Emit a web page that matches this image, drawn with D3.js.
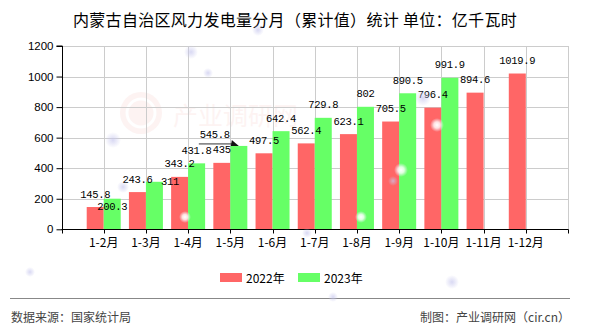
<!DOCTYPE html>
<html>
<head>
<meta charset="utf-8">
<script src="https://cdn.jsdelivr.net/npm/d3@7/dist/d3.min.js"></script>
<style>
  html, body { margin: 0; padding: 0; background: #fff; }
  svg { display: block; }
</style>
</head>
<body>
<svg id="chart" width="590" height="330"></svg>
<script>
// Cumulative wind power generation, Inner Mongolia (100 million kWh)
const categories = ["1-2月", "1-3月", "1-4月", "1-5月", "1-6月", "1-7月", "1-8月", "1-9月", "1-10月", "1-11月", "1-12月"];
const values2022 = [145.8, 243.6, 343.2, 435, 497.5, 562.4, 623.1, 705.5, 796.4, 894.6, 1019.9];
const values2023 = [200.3, 311, 431.8, 545.8, 642.4, 729.8, 802, 890.5, 991.9, null, null];
const seriesNames = ["2022年", "2023年"];
const yTickValues = [0, 200, 400, 600, 800, 1000, 1200];

const titleText = "内蒙古自治区风力发电量分月（累计值）统计 单位：亿千瓦时";
const sourceText = "数据来源：国家统计局";
const creditText = "制图：产业调研网（cir.cn）";

const colors = ["#ff6666", "#66ff66"];
const cjk = "'Noto Sans CJK SC', 'Noto Sans', sans-serif";
const mono = "'Liberation Mono', 'DejaVu Sans Mono', monospace";

const svg = d3.select("#chart");
const W = 590, H = 330;
const plot = { left: 61.5, right: 568, top: 46, bottom: 229.3 };

// soft background glows
const defs = svg.append("defs");
const gBlue = defs.append("radialGradient").attr("id", "glowBlue");
gBlue.append("stop").attr("offset", "0%").attr("stop-color", "#c8c8ee").attr("stop-opacity", 0.7);
gBlue.append("stop").attr("offset", "100%").attr("stop-color", "#c8c8ee").attr("stop-opacity", 0);
const gWhite = defs.append("radialGradient").attr("id", "glowWhite");
gWhite.append("stop").attr("offset", "0%").attr("stop-color", "#ffffff").attr("stop-opacity", 1);
gWhite.append("stop").attr("offset", "45%").attr("stop-color", "#ffffff").attr("stop-opacity", 0.8);
gWhite.append("stop").attr("offset", "100%").attr("stop-color", "#eeeeff").attr("stop-opacity", 0);

svg.append("rect").attr("width", W).attr("height", H).attr("fill", "#fff");

// faint watermark
const wm = svg.append("g").attr("opacity", 0.06);
wm.append("circle").attr("cx", 141).attr("cy", 113).attr("r", 21).attr("fill", "#e04030");
wm.append("circle").attr("cx", 141).attr("cy", 113).attr("r", 14).attr("fill", "none")
  .attr("stroke", "#fff").attr("stroke-width", 3);
wm.append("text").attr("x", 173).attr("y", 114).attr("dominant-baseline", "central")
  .attr("font-family", cjk).attr("font-size", 25).attr("fill", "#e04030").text("产业调研网");

// scales
const x = d3.scaleLinear().domain([0, categories.length + 1]).range([plot.left, plot.right]);
const y = d3.scaleLinear().domain([0, 1200]).range([plot.bottom, plot.top]);
const barW = 17;

// grid
const grid = svg.append("g").attr("stroke", "#cccccc").attr("stroke-width", 1);
grid.selectAll("line.h").data(yTickValues.filter(v => v > 0)).join("line")
  .attr("x1", plot.left).attr("x2", plot.right)
  .attr("y1", d => Math.round(y(d)) + 0.5).attr("y2", d => Math.round(y(d)) + 0.5);
grid.selectAll("line.v").data(d3.range(1, categories.length + 2)).join("line")
  .attr("x1", d => Math.round(x(d)) + 0.5).attr("x2", d => Math.round(x(d)) + 0.5)
  .attr("y1", plot.top).attr("y2", plot.bottom);

// bars
const series = [values2022, values2023];
series.forEach((vals, s) => {
  svg.append("g").selectAll("rect").data(vals.map((v, i) => ({ v, i })).filter(d => d.v != null)).join("rect")
    .attr("x", d => x(d.i + 1) - (s === 0 ? barW : 0))
    .attr("width", barW)
    .attr("y", d => y(d.v))
    .attr("height", d => y(0) - y(d.v))
    .attr("fill", colors[s]);
});

// axes
const yAxis = d3.axisLeft(y).tickValues(yTickValues).tickSize(6).tickPadding(3).tickFormat(d3.format("d"));
const yg = svg.append("g").attr("transform", `translate(${Math.round(plot.left) + 0.5},0)`).call(yAxis);
yg.select(".domain").attr("stroke", "#000").attr("d", `M-6,${plot.top}H0V${plot.bottom}`);
yg.selectAll(".tick line").attr("stroke", "#000");
yg.selectAll(".tick text").attr("font-family", "'Liberation Sans', Arial, sans-serif")
  .attr("font-size", 11.5).attr("fill", "#000");

const xg = svg.append("g").attr("transform", `translate(0,${Math.round(plot.bottom) + 0.5})`);
xg.append("line").attr("x1", plot.left).attr("x2", plot.right + 0.5).attr("stroke", "#000");
xg.selectAll("line.tick").data(d3.range(0, categories.length + 2)).join("line")
  .attr("x1", d => Math.round(x(d)) + 0.5).attr("x2", d => Math.round(x(d)) + 0.5)
  .attr("y1", 0).attr("y2", 4).attr("stroke", "#000");
xg.selectAll("text").data(categories).join("text")
  .attr("x", (d, i) => x(i + 1)).attr("y", 12).attr("dominant-baseline", "central")
  .attr("text-anchor", "middle").attr("font-family", cjk).attr("font-size", 12).attr("fill", "#000")
  .text(d => d);

// value labels (centre offsets from the bar top; a few are nudged to avoid overlaps)
const labelLift = -12.5;
const nudges2023 = { 0: [0, 8], 1: [15.7, 0], 3: [-24, -10.6] };
const labels = svg.append("g").attr("font-family", mono).attr("font-size", 10.5).attr("fill", "#000")
  .attr("text-anchor", "middle").attr("dominant-baseline", "central").attr("letter-spacing", "-0.3");
values2022.forEach((v, i) => {
  labels.append("text").attr("x", x(i + 1) - barW / 2).attr("y", y(v) + labelLift).text(v);
});
values2023.forEach((v, i) => {
  if (v == null) return;
  const [dx, dy] = nudges2023[i] || [0, labelLift];
  const cx = x(i + 1) + barW / 2 + dx, cy = y(v) + dy;
  labels.append("text").attr("x", cx).attr("y", cy).text(v);
  if (i === 3) {
    // leader line with arrow pointing to the displaced label's bar
    const left = x(i + 1), top = y(v);
    svg.append("line").attr("x1", cx - 16).attr("x2", left + 2)
      .attr("y1", top - 2).attr("y2", top - 2).attr("stroke", "#333").attr("stroke-width", 1);
    svg.append("path")
      .attr("d", `M${left + 1.5},${top - 6}L${left + 0.5},${top}L${left + 8.5},${top}Z`)
      .attr("fill", "#111");
  }
});

// title
svg.append("text").attr("x", 295).attr("y", 18.5).attr("text-anchor", "middle")
  .attr("dominant-baseline", "central").attr("font-family", cjk).attr("font-size", 16)
  .attr("fill", "#000").attr("letter-spacing", "0.3").text(titleText);

// legend
const legend = svg.append("g").attr("font-family", cjk).attr("font-size", 12).attr("fill", "#000");
const legendX = [220, 298];
seriesNames.forEach((name, s) => {
  legend.append("rect").attr("x", legendX[s]).attr("y", 273).attr("width", 22).attr("height", 9)
    .attr("fill", colors[s]);
  legend.append("text").attr("x", legendX[s] + 26).attr("y", 277.5).attr("dominant-baseline", "central")
    .text(name);
});

// footer
svg.append("line").attr("x1", 10).attr("x2", 570).attr("y1", 298.5).attr("y2", 298.5)
  .attr("stroke", "#888").attr("stroke-width", 1);
svg.append("text").attr("x", 11).attr("y", 316.5).attr("dominant-baseline", "central")
  .attr("font-family", cjk).attr("font-size", 12).attr("fill", "#444").text(sourceText);
svg.append("text").attr("x", 570).attr("y", 316.5).attr("text-anchor", "end").attr("dominant-baseline", "central")
  .attr("font-family", cjk).attr("font-size", 12).attr("fill", "#444").text(creditText);

// scattered glow spots
const blueSpots = [[258, 30, 6], [191, 52, 7], [208, 73, 5], [113, 140, 8], [123, 187, 6], [423, 98, 8],
  [393, 181, 5], [307, 233, 5], [30, 272, 5], [333, 297, 5], [452, 282, 7]];
const whiteSpots = [[185, 217, 6], [437, 125, 7], [401, 170, 7], [361, 217, 6]];
svg.append("g").selectAll("circle").data(blueSpots).join("circle")
  .attr("cx", d => d[0]).attr("cy", d => d[1]).attr("r", d => d[2]).attr("fill", "url(#glowBlue)");
svg.append("g").selectAll("circle").data(whiteSpots).join("circle")
  .attr("cx", d => d[0]).attr("cy", d => d[1]).attr("r", d => d[2]).attr("fill", "url(#glowWhite)");
</script>
</body>
</html>
